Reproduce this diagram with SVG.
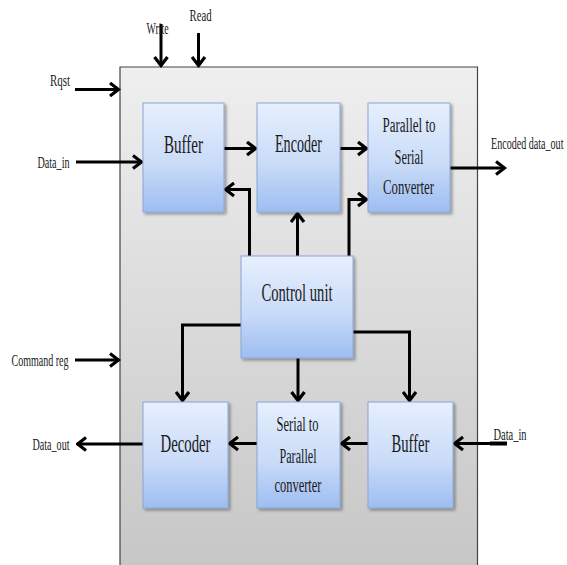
<svg xmlns="http://www.w3.org/2000/svg" width="567" height="565" viewBox="0 0 567 565">
  <defs>
    <linearGradient id="panelFill" x1="0" y1="0" x2="0" y2="1">
      <stop offset="0" stop-color="#efefef"/>
      <stop offset="1" stop-color="#c6c6c6"/>
    </linearGradient>
    <linearGradient id="blockFill" x1="0" y1="0" x2="0" y2="1">
      <stop offset="0" stop-color="#e6effd"/>
      <stop offset="0.55" stop-color="#cadcf8"/>
      <stop offset="1" stop-color="#9dbdf1"/>
    </linearGradient>
    <filter id="shadow" x="-10%" y="-10%" width="125%" height="125%">
      <feGaussianBlur in="SourceAlpha" stdDeviation="1.5"/>
      <feOffset dx="2" dy="2" result="o"/>
      <feComponentTransfer><feFuncA type="linear" slope="0.35"/></feComponentTransfer>
      <feMerge><feMergeNode/><feMergeNode in="SourceGraphic"/></feMerge>
    </filter>
    <marker id="head" markerUnits="userSpaceOnUse" viewBox="-11 -8 13 16" refX="0.5" refY="0" markerWidth="13" markerHeight="16" orient="auto">
      <path d="M-8.5,-6.5 L0,0 L-8.5,6.5" fill="none" stroke="#000" stroke-width="3.2" stroke-linejoin="miter"/>
    </marker>
  </defs>
  <style>
    .block { fill: url(#blockFill); stroke: #8aa6d4; stroke-width: 1; filter: url(#shadow); }
    .wire { fill: none; stroke: #000; stroke-width: 3; marker-end: url(#head); }
    .lbl { font-family: "Liberation Serif", "Times New Roman", serif; fill: #1a1a1a; }
    .big { font-size: 25px; text-anchor: middle; }
    .mid { font-size: 20px; text-anchor: middle; }
    .sm { font-size: 16px; }
  </style>

  <rect width="567" height="565" fill="#ffffff"/>

  <!-- chip outline -->
  <g id="chip">
    <path d="M120,575 L120,67 L477.5,67 L477.5,575 Z" fill="url(#panelFill)" stroke="#444" stroke-width="1.2"/>
  </g>

  <!-- signal and control wiring -->
  <g id="connectors">
    <line class="wire" x1="161" y1="24" x2="161" y2="66"/>
    <line class="wire" x1="198.5" y1="33" x2="198.5" y2="66"/>
    <line class="wire" x1="75" y1="89.5" x2="119" y2="89.5"/>
    <line class="wire" x1="76" y1="162" x2="142" y2="162"/>
    <line class="wire" x1="224" y1="148.5" x2="256" y2="148.5"/>
    <line class="wire" x1="340" y1="148.5" x2="367" y2="148.5"/>
    <line class="wire" x1="450" y1="168" x2="505" y2="168"/>
    <polyline class="wire" points="249.5,256 249.5,189.5 225,189.5"/>
    <line class="wire" x1="297.5" y1="256" x2="297.5" y2="213"/>
    <polyline class="wire" points="349,256 349,199.5 367,199.5"/>
    <polyline class="wire" points="241,325 182.5,325 182.5,401"/>
    <line class="wire" x1="298" y1="358" x2="298" y2="401"/>
    <polyline class="wire" points="353,332 409.5,332 409.5,401"/>
    <line class="wire" x1="75" y1="360" x2="119" y2="360"/>
    <line class="wire" x1="507" y1="443.5" x2="454" y2="443.5"/>
    <line x1="507" y1="443.5" x2="490" y2="443.5" stroke="#000" stroke-width="4"/>
    <line class="wire" x1="368" y1="443.5" x2="341" y2="443.5"/>
    <line class="wire" x1="257" y1="443.5" x2="229" y2="443.5"/>
    <line class="wire" x1="143" y1="444" x2="77" y2="444"/>
  </g>

  <!-- functional blocks -->
  <g id="buffer-in">
    <rect class="block" x="143" y="103" width="81" height="109"/>
    <text class="lbl big" x="183.5" y="153" textLength="39" lengthAdjust="spacingAndGlyphs">Buffer</text>
  </g>
  <g id="encoder">
    <rect class="block" x="257" y="103" width="83" height="109"/>
    <text class="lbl big" x="298.5" y="152" textLength="47" lengthAdjust="spacingAndGlyphs">Encoder</text>
  </g>
  <g id="parallel-to-serial">
    <rect class="block" x="368" y="103" width="82" height="109"/>
    <text class="lbl mid" x="409" y="132" textLength="53" lengthAdjust="spacingAndGlyphs">Parallel to</text>
    <text class="lbl mid" x="409" y="163.5" textLength="29" lengthAdjust="spacingAndGlyphs">Serial</text>
    <text class="lbl mid" x="408.5" y="193.5" textLength="51" lengthAdjust="spacingAndGlyphs">Converter</text>
  </g>
  <g id="control-unit">
    <rect class="block" x="241" y="256" width="112" height="102"/>
    <text class="lbl big" x="297" y="300.5" textLength="71" lengthAdjust="spacingAndGlyphs">Control unit</text>
  </g>
  <g id="decoder">
    <rect class="block" x="143" y="402" width="85" height="106"/>
    <text class="lbl big" x="185.5" y="452" textLength="50" lengthAdjust="spacingAndGlyphs">Decoder</text>
  </g>
  <g id="serial-to-parallel">
    <rect class="block" x="257" y="402" width="83" height="106"/>
    <text class="lbl mid" x="297.5" y="430.5" textLength="42" lengthAdjust="spacingAndGlyphs">Serial to</text>
    <text class="lbl mid" x="298" y="463" textLength="37" lengthAdjust="spacingAndGlyphs">Parallel</text>
    <text class="lbl mid" x="298" y="492" textLength="47" lengthAdjust="spacingAndGlyphs">converter</text>
  </g>
  <g id="buffer-out">
    <rect class="block" x="368" y="402" width="85" height="106"/>
    <text class="lbl big" x="410.5" y="452" textLength="38" lengthAdjust="spacingAndGlyphs">Buffer</text>
  </g>

  <!-- port labels -->
  <g id="ports">
    <text class="lbl sm" x="146.5" y="33.5" textLength="22" lengthAdjust="spacingAndGlyphs">Write</text>
    <text class="lbl sm" x="189.5" y="21" textLength="22" lengthAdjust="spacingAndGlyphs">Read</text>
    <text class="lbl sm" x="50" y="85.5" textLength="20" lengthAdjust="spacingAndGlyphs">Rqst</text>
    <text class="lbl sm" x="37.5" y="168" textLength="32" lengthAdjust="spacingAndGlyphs">Data_in</text>
    <text class="lbl sm" transform="translate(491,148.5) scale(0.63,1)" x="0" y="0">Encoded data_out</text>
    <text class="lbl sm" x="11.5" y="365.5" textLength="57" lengthAdjust="spacingAndGlyphs">Command reg</text>
    <text class="lbl sm" x="32.5" y="449.5" textLength="37" lengthAdjust="spacingAndGlyphs">Data_out</text>
    <text class="lbl sm" x="493.5" y="440" textLength="33" lengthAdjust="spacingAndGlyphs">Data_in</text>
  </g>
</svg>
